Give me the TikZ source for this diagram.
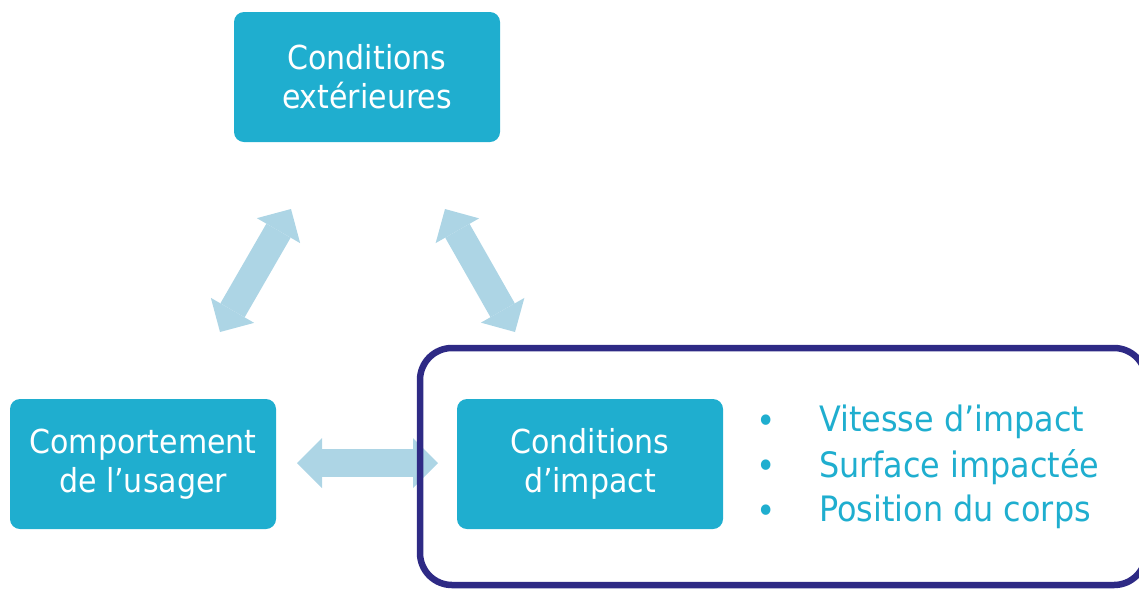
\documentclass[tikz,border=0pt]{standalone}
\usepackage{fontspec}
\setmainfont{DejaVu Sans}[FakeStretch=0.91]
\usetikzlibrary{arrows.meta}
\definecolor{boxcyan}{HTML}{1FAECF}
\definecolor{arrowblue}{HTML}{ADD5E5}
\definecolor{framenavy}{HTML}{2E2A85}
\tikzset{
  topic/.style={draw=none, fill=boxcyan, rounded corners=10pt, text=white,
    minimum width=266pt, minimum height=130pt, align=center, inner sep=0pt,
    font=\fontsize{33}{39}\selectfont},
  dblarrow/.style={draw=arrowblue, line width=28pt, line cap=butt,
    {Triangle[length=25pt,width=50pt,line width=0pt]}-{Triangle[length=25pt,width=50pt,line width=0pt]}},
  bulletitem/.style={text=boxcyan, anchor=west, inner sep=0pt,
    font=\fontsize{35}{42}\selectfont},
  bulletdot/.style={text=boxcyan, inner sep=0pt, font=\fontsize{36}{36}\selectfont}
}
\begin{document}
\begin{tikzpicture}[x=1pt,y=-1pt]
\useasboundingbox (0,0) rectangle (1139,590);

% the three factor boxes
\node[topic] (ext) at (367,77) {Conditions\\extérieures};
\node[topic] (usager) at (143,464) {Comportement\\de l’usager};
\node[topic] (impact) at (590,464) {Conditions\\d’impact};

% tip positions of the double arrows
\coordinate (a1) at (220,332);
\coordinate (a2) at (291,209);
\coordinate (b1) at (445,209);
\coordinate (b2) at (515,332);
\coordinate (c1) at (297,463);
\coordinate (c2) at (438,463);

\draw[dblarrow] (a1) -- (a2);
\draw[dblarrow] (b1) -- (b2);
\draw[dblarrow] (c1) -- (c2);

% frame around the impact conditions
\node[draw=framenavy, line width=6.5pt, rounded corners=32pt,
      minimum width=726pt, minimum height=237pt, inner sep=0pt]
      (frame) at (783,466.5) {};

% details of the impact conditions
\node[bulletdot] (d1) at (766,424) {•};
\node[bulletdot] (d2) at (766,469) {•};
\node[bulletdot] (d3) at (766,514) {•};
\node[bulletitem] (t1) at (819,422) {Vitesse d’impact};
\node[bulletitem] (t2) at (819,467) {Surface impactée};
\node[bulletitem] (t3) at (819,512) {Position du corps};
\end{tikzpicture}
\end{document}
